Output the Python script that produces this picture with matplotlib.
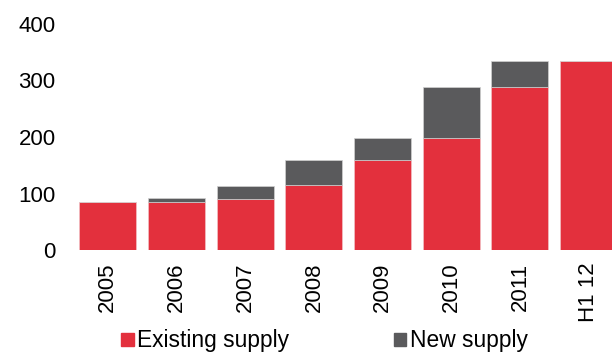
import numpy as np
import matplotlib.pyplot as plt
from matplotlib.patches import Patch

plt.rcParams['font.family'] = ['Liberation Sans', 'DejaVu Sans']

# Donnees
categories = ['2005', '2006', '2007', '2008', '2009', '2010', '2011', 'H1 12']
existing = [85, 85, 91, 115, 159, 198, 289, 334]
new = [0, 7, 23, 44, 39, 91, 45, 0]

red = '#E3303D'
grey = '#5A5A5C'

fig = plt.figure(figsize=(6.12, 3.52), dpi=100)
ax = fig.add_axes([68 / 612, 1 - 250 / 352, 1 - 68 / 612, (250 - 24) / 352])

x = np.arange(len(categories))
ax.bar(x, existing, width=0.83, color=red, edgecolor='#f2c0c4', linewidth=0.5)
ax.bar(x, new, width=0.83, bottom=existing, color=grey, edgecolor='#d0d0d0', linewidth=0.5)

ax.set_xlim(-0.58, 7.34)
ax.set_ylim(0, 400)
ax.set_yticks([0, 100, 200, 300, 400])
ax.set_xticks(x)
ax.set_xticklabels(categories, rotation=90, fontsize=16)
ax.tick_params(axis='y', labelsize=16, length=0, pad=9)
ax.tick_params(axis='x', length=0, pad=9)
for s in ax.spines.values():
    s.set_visible(False)

# legende en bas de la figure
handles = [Patch(color=red, label='Existing supply'), Patch(color=grey, label='New supply')]
fig.legend(handles=handles, loc='center', bbox_to_anchor=(0.53, 1 - 341 / 352),
           ncol=2, frameon=False, fontsize=16.4, handlelength=0.55, handleheight=0.55,
           handletextpad=0.15, columnspacing=4.6, borderpad=0, borderaxespad=0)

fig.savefig('out.png', dpi=100)
